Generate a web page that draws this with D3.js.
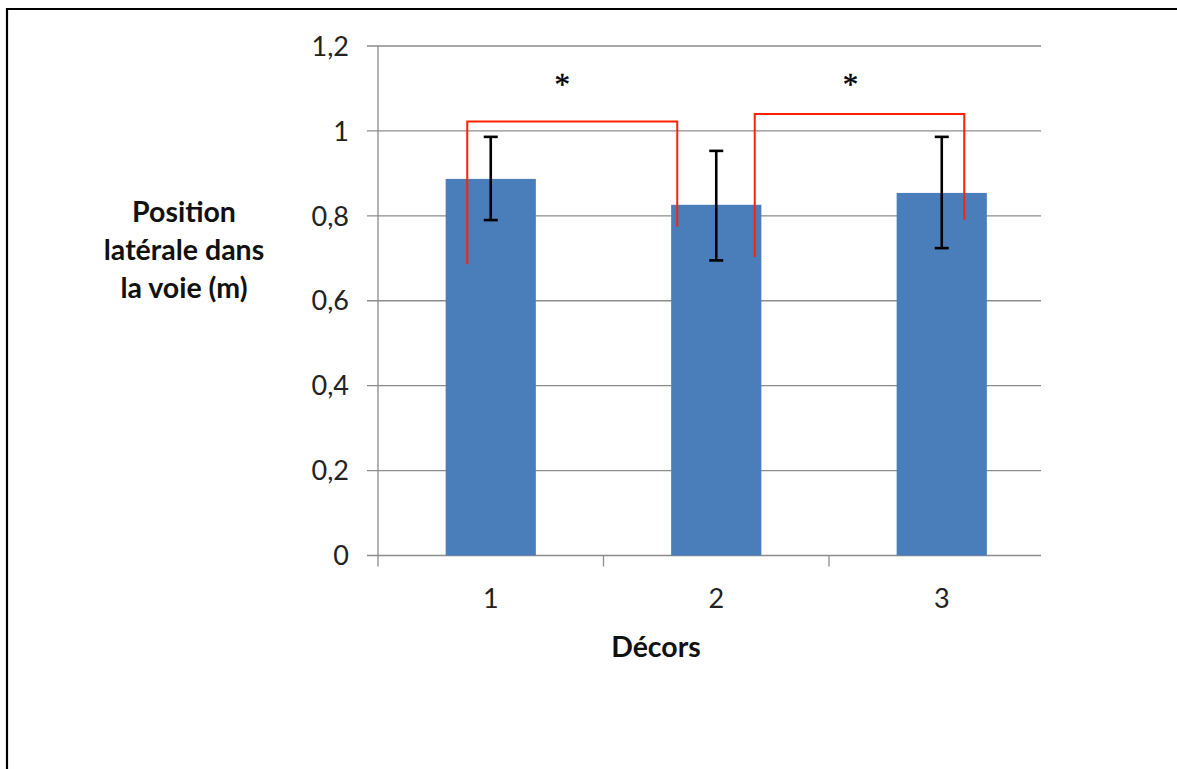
<!DOCTYPE html>
<html><head><meta charset="utf-8">
<script src="https://cdn.jsdelivr.net/npm/d3@7"></script>
<style>html,body{margin:0;padding:0;background:#fff;}svg{display:block;}</style>
</head><body>
<script>
const categories = ["1", "2", "3"];
const means = [0.887, 0.826, 0.854];
const errUpper = [0.986, 0.953, 0.986];
const errLower = [0.790, 0.695, 0.724];
const yTicks = [0, 0.2, 0.4, 0.6, 0.8, 1, 1.2];
const yTickLabels = ["0", "0,2", "0,4", "0,6", "0,8", "1", "1,2"];
const brackets = [
  {from: "1", to: "2", top: 1.022, leftEnd: 0.686, rightEnd: 0.774, label: "*"},
  {from: "2", to: "3", top: 1.040, leftEnd: 0.703, rightEnd: 0.791, label: "*"}
];
const yTitle = ["Position", "latérale dans", "la voie (m)"];
const xTitle = "Décors";

const W = 1177, H = 769;
const svg = d3.select("body").append("svg").attr("width", W).attr("height", H);
const font = "Lato, 'Open Sans', sans-serif";

// outer frame
svg.append("path").attr("d", `M7,${H+5}V9H${W+5}`).attr("fill","none").attr("stroke","#000").attr("stroke-width",2.2);

const x0 = 378, x1 = 1054.5, plotRight = 1041;
const x = d3.scaleBand().domain(categories).range([x0, x1]).paddingInner(0.6).paddingOuter(0.3);
const y = d3.scaleLinear().domain([0, 1.2]).range([555.5, 46]);

// gridlines
svg.append("g").selectAll("line").data(yTicks).join("line")
  .attr("x1", 367).attr("x2", plotRight)
  .attr("y1", d => y(d)).attr("y2", d => y(d))
  .attr("stroke", "#8c8c8c").attr("stroke-width", 1.3);

// y axis line
svg.append("line").attr("x1", x0).attr("x2", x0).attr("y1", y(1.2)).attr("y2", y(0))
  .attr("stroke", "#8c8c8c").attr("stroke-width", 1.3);

// x ticks (category boundaries)
const step = (x1 - x0) / categories.length;
svg.append("g").selectAll("line").data(d3.range(categories.length)).join("line")
  .attr("x1", i => x0 + i * step).attr("x2", i => x0 + i * step)
  .attr("y1", y(0)).attr("y2", y(0) + 11)
  .attr("stroke", "#8c8c8c").attr("stroke-width", 1.3);

// y tick labels
svg.append("g").selectAll("text").data(yTicks).join("text")
  .attr("x", 349).attr("y", d => y(d)).attr("dy", "0.36em")
  .attr("text-anchor", "end").attr("font-family", font).attr("font-size", 27).attr("fill", "#222")
  .text((d, i) => yTickLabels[i]);

// x tick labels
svg.append("g").selectAll("text").data(categories).join("text")
  .attr("x", d => x(d) + x.bandwidth() / 2).attr("y", 598).attr("dy", "0.36em")
  .attr("text-anchor", "middle").attr("font-family", font).attr("font-size", 27).attr("fill", "#222")
  .text(d => d);

// bars
svg.append("g").selectAll("rect").data(categories).join("rect")
  .attr("x", d => x(d)).attr("width", x.bandwidth())
  .attr("y", (d, i) => y(means[i])).attr("height", (d, i) => y(0) - y(means[i]))
  .attr("fill", "#4a7ebb");

// error bars
const eb = svg.append("g").attr("stroke", "#000").attr("stroke-width", 2.6).attr("fill", "none");
categories.forEach((c, i) => {
  const cx = x(c) + x.bandwidth() / 2;
  eb.append("line").attr("x1", cx).attr("x2", cx).attr("y1", y(errUpper[i])).attr("y2", y(errLower[i]));
  eb.append("line").attr("x1", cx - 7).attr("x2", cx + 7).attr("y1", y(errUpper[i])).attr("y2", y(errUpper[i]));
  eb.append("line").attr("x1", cx - 7).attr("x2", cx + 7).attr("y1", y(errLower[i])).attr("y2", y(errLower[i]));
});

// significance brackets
const center = c => x(c) + x.bandwidth() / 2;
brackets.forEach((b, k) => {
  const lx = k === 0 ? center(b.from) - 23.5 : center(b.from) + 38.5;
  const rx = k === 0 ? center(b.to) - 39 : center(b.to) + 22.5;
  svg.append("path")
    .attr("d", `M${lx},${y(b.leftEnd)}V${y(b.top)}H${rx}V${y(b.rightEnd)}`)
    .attr("fill", "none").attr("stroke", "#ff2200").attr("stroke-width", 2);
  svg.append("text").attr("x", (lx + rx) / 2 + (k === 0 ? -10 : -9)).attr("y", 95)
    .attr("text-anchor", "middle").attr("font-family", "'Liberation Serif', serif").attr("font-size", 31)
    .attr("fill", "#000").attr("stroke", "#000").attr("stroke-width", 0.4).text(b.label);
});

// axis titles
svg.append("text").attr("text-anchor", "middle").attr("font-family", font).attr("font-weight", "bold")
  .attr("font-size", 28.5).attr("fill", "#111")
  .selectAll("tspan").data(yTitle).join("tspan")
  .attr("x", 184).attr("y", (d, i) => 222 + i * 38).text(d => d);

svg.append("text").attr("x", 656).attr("y", 657).attr("text-anchor", "middle")
  .attr("font-family", font).attr("font-weight", "bold").attr("font-size", 28.5).attr("fill", "#111")
  .text(xTitle);
</script>
</body></html>
